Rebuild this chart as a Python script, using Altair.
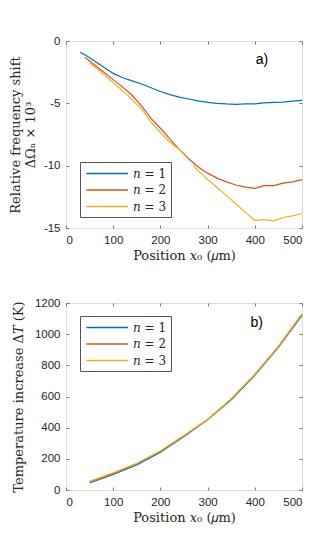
import altair as alt
import pandas as pd

# ---------- panel a data ----------
n_labels = ["𝑛 = 1", "𝑛 = 2", "𝑛 = 3"]
colors = ["#0072BD", "#D95319", "#EDB120"]

a_x1 = [30, 40, 50, 60, 70, 80, 90, 100, 120, 140, 160, 180, 200, 220, 240, 260, 280,
        300, 320, 340, 360, 380, 400, 420, 440, 460, 480, 500]
a_y1 = [-0.9, -1.1, -1.35, -1.6, -1.85, -2.1, -2.35, -2.6, -2.95, -3.2, -3.45, -3.75,
        -4.05, -4.3, -4.5, -4.65, -4.8, -4.93, -5.0, -5.05, -5.08, -5.05, -5.05, -4.97,
        -4.93, -4.9, -4.82, -4.76]

a_x2 = [40, 50, 60, 80, 100, 120, 140, 160, 180, 200, 220, 240, 260, 280, 300, 320,
        340, 360, 380, 400, 420, 440, 460, 480, 500]
a_y2 = [-1.3, -1.6, -1.9, -2.5, -3.1, -3.7, -4.35, -5.2, -6.2, -7.0, -7.85, -8.7,
        -9.45, -10.1, -10.6, -11.0, -11.3, -11.55, -11.72, -11.82, -11.6, -11.6, -11.4,
        -11.3, -11.12]

a_x3a = [50, 60, 80, 100, 120, 140, 160, 180, 200, 220, 240, 252]
a_y3a = [-1.75, -2.05, -2.7, -3.35, -4.0, -4.7, -5.45, -6.5, -7.35, -8.1, -8.7, -9.08]
a_x3b = [270, 280, 300, 320, 340, 360, 380, 400, 420, 440, 460, 480, 500]
a_y3b = [-10.0, -10.4, -11.1, -11.75, -12.4, -13.05, -13.75, -14.38, -14.33, -14.42,
         -14.16, -14.03, -13.84]

# ---------- panel b data ----------
b_x = [50, 100, 150, 200, 250, 300, 350, 400, 450, 500]
b_y1 = [45, 100, 160, 243, 343, 450, 578, 735, 915, 1120]
b_y2 = [52, 107, 168, 248, 348, 452, 584, 742, 922, 1128]
b_y3 = [55, 110, 172, 250, 350, 452, 585, 740, 920, 1130]

x_ticks = [0, 100, 200, 300, 400, 500]
a_ticks = [-15, -10, -5, 0]
b_ticks = [0, 200, 400, 600, 800, 1000, 1200]


def rows(xs, ys, n, seg):
    return [{"x": x, "y": y, "n": n, "seg": seg} for x, y in zip(xs, ys)]


dfa = pd.DataFrame(
    rows(a_x1, a_y1, n_labels[0], "1")
    + rows(a_x2, a_y2, n_labels[1], "2")
    + rows(a_x3a, a_y3a, n_labels[2], "3a")
    + rows(a_x3b, a_y3b, n_labels[2], "3b")
)
dfb = pd.DataFrame(
    rows(b_x, b_y1, n_labels[0], "1")
    + rows(b_x, b_y2, n_labels[1], "2")
    + rows(b_x, b_y3, n_labels[2], "3")
)

W, H = 236, 187
LABEL_FONT = "Liberation Sans"
TITLE_FONT = "DejaVu Serif"
AX = "#262626"
FRAME = "#777777"

label_expr = "datum.value < 0 ? '-' + abs(datum.value) : '' + datum.value"


def main_axis(values, title, orient, title_pad):
    return alt.Axis(
        values=values, title=title, orient=orient, grid=False, domain=False,
        tickSize=3, offset=-3, tickColor=FRAME, labelPadding=6,
        labelFont=LABEL_FONT, labelFontSize=11.5, labelColor=AX,
        labelExpr=label_expr, titleFont=TITLE_FONT, titleFontSize=13,
        titleFontWeight="normal", titleColor=AX, titlePadding=title_pad,
        titleLineHeight=15,
    )


def tick_axis(values, orient):
    return alt.Axis(
        values=values, title=None, orient=orient, grid=False, domain=False,
        labels=False, tickSize=3, offset=-3, tickColor=FRAME,
    )


def panel(df, ydomain, yticks, ytitle, ytitle_pad, tag, tag_x, tag_y, legend_y):
    xs = alt.Scale(domain=[0, 500], nice=False)
    ys = alt.Scale(domain=ydomain, nice=False)
    lines = alt.Chart(df).mark_line(strokeWidth=1.2).encode(
        x=alt.X("x:Q", scale=xs,
                axis=main_axis(x_ticks, "Position 𝑥₀ (𝜇m)", "bottom", 4)),
        y=alt.Y("y:Q", scale=ys, axis=main_axis(yticks, ytitle, "left", ytitle_pad)),
        color=alt.Color(
            "n:N",
            scale=alt.Scale(domain=n_labels, range=colors),
            legend=alt.Legend(
                title=None, orient="none", legendX=14, legendY=legend_y,
                symbolType="M-0.8,0L5.6,0", symbolSize=169, symbolStrokeWidth=1.5,
                labelFont=TITLE_FONT, labelFontSize=12, labelColor=AX,
                labelOffset=34, rowPadding=2.5, padding=4,
                strokeColor="#555555", fillColor="white",
            ),
        ),
        detail="seg:N",
    )
    ticks = alt.Chart(df).mark_point(opacity=0).encode(
        x=alt.X("x:Q", scale=xs, axis=tick_axis(x_ticks, "top")),
        y=alt.Y("y:Q", scale=ys, axis=tick_axis(yticks, "right")),
    )
    tagdf = pd.DataFrame({"x": [tag_x], "y": [tag_y], "t": [tag]})
    text = alt.Chart(tagdf).mark_text(
        font=LABEL_FONT, fontSize=14, color="black"
    ).encode(
        x=alt.X("x:Q", scale=xs, axis=None),
        y=alt.Y("y:Q", scale=ys, axis=None),
        text="t:N",
    )
    return (
        alt.layer(lines, ticks, text)
        .resolve_axis(x="independent", y="independent")
        .properties(width=W, height=H)
    )


top = panel(dfa, [-15, 0], a_ticks, ["Relative frequency shift", "ΔΩₙ × 10³"], 6,
            "a)", 415, -1.55, 121)
bottom = panel(dfb, [0, 1200], b_ticks, "Temperature increase Δ𝑇 (K)", 9,
               "b)", 404, 1074, 13)

chart = (
    alt.vconcat(top, bottom, spacing=33)
    .resolve_legend(color="independent")
    .properties(padding={"left": 0, "top": 26, "right": 5, "bottom": 5})
    .configure_view(stroke=FRAME, strokeWidth=1)
    .configure(background="white")
)

chart.save("out.html", embed_options={"renderer": "svg", "actions": False})
